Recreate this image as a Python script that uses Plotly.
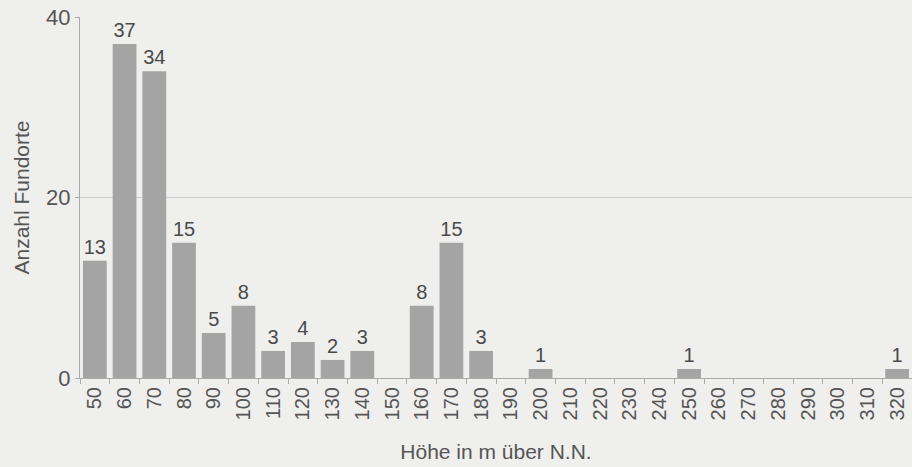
import plotly.graph_objects as go

hoehe = [50, 60, 70, 80, 90, 100, 110, 120, 130, 140, 150, 160, 170, 180, 190,
         200, 210, 220, 230, 240, 250, 260, 270, 280, 290, 300, 310, 320]
anzahl = [13, 37, 34, 15, 5, 8, 3, 4, 2, 3, 0, 8, 15, 3, 0,
          1, 0, 0, 0, 0, 1, 0, 0, 0, 0, 0, 0, 1]

cats = [str(h) for h in hoehe]
labels = [str(v) if v > 0 else "" for v in anzahl]

fig = go.Figure(go.Bar(
    x=cats, y=anzahl, text=labels, textposition="outside",
    textfont=dict(size=20, color="#4a4a4a"),
    marker=dict(color="#a4a4a4", line=dict(width=0)),
    cliponaxis=False,
))

fig.update_layout(
    width=912, height=467,
    margin=dict(l=80, r=0, t=17, b=89),
    paper_bgcolor="#efefee", plot_bgcolor="#efefee",
    font=dict(family="Liberation Sans, Arial, sans-serif", color="#555555"),
    bargap=0.2, showlegend=False,
)
fig.update_xaxes(
    type="category", tickangle=-90, tickfont=dict(size=20, color="#555555"),
    ticks="outside", tickson="boundaries", ticklen=5, tickcolor="#aaaaaa",
    showline=True, linecolor="#aaaaaa", linewidth=1, showgrid=False,
    title=dict(text="Höhe in m über N.N.", font=dict(size=21, color="#555555"), standoff=24),
)
fig.update_yaxes(
    range=[0, 40], tickvals=[0, 20, 40], tickfont=dict(size=22, color="#555555"),
    ticks="outside", ticklen=4, tickcolor="#aaaaaa",
    showline=True, linecolor="#aaaaaa", linewidth=1,
    showgrid=True, gridcolor="#cdcdcd", gridwidth=1, zeroline=False,
    title=dict(text="Anzahl Fundorte", font=dict(size=21, color="#555555"), standoff=10),
)

fig.write_html("out.html", config={"displayModeBar": False},
               post_script="document.body.style.margin='0';document.body.style.background='#efefee';")
